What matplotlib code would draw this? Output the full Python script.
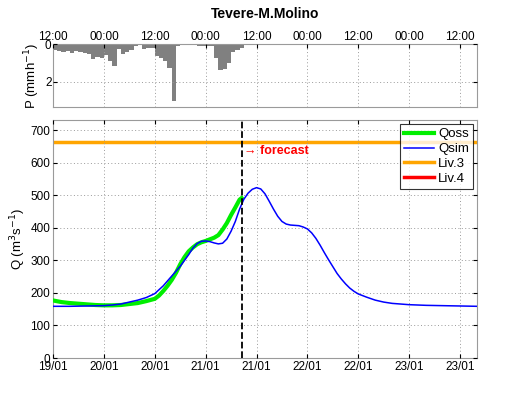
import matplotlib
matplotlib.use("Agg")
import matplotlib.pyplot as plt
import numpy as np

plt.rcParams['font.family'] = ['Liberation Sans', 'DejaVu Sans']
plt.rcParams['font.size'] = 8.5

# pioggia oraria (mm/h), ore dalle 12:00 del 19/01
rain = [0.30, 0.35, 0.40, 0.38, 0.45, 0.38, 0.40, 0.48, 0.55, 0.80,
        0.68, 0.72, 0.60, 0.90, 1.18, 0.25, 0.50, 0.42, 0.30, 0.10,
        0.05, 0.25, 0.22, 0.18, 0.65, 0.75, 0.90, 1.25, 3.05, 0.10,
        0.05, 0.05, 0.00, 0.05, 0.08, 0.08, 0.10, 0.10, 0.75, 1.40,
        1.30, 1.00, 0.40, 0.30, 0.20]
rain_h = np.arange(len(rain))

# portata osservata
qoss_h = [0, 2, 4, 6, 8, 10, 12, 14, 16, 18, 20, 22, 24, 25, 26, 27, 28, 29,
          30, 31, 32, 33, 34, 35, 36, 37, 38, 39, 40, 41, 42, 43, 44, 44.5]
qoss = [177, 172, 169, 167, 165, 163, 162, 162, 163, 166, 169, 175, 182, 192,
        206, 222, 240, 262, 288, 310, 328, 340, 350, 356, 360, 365, 370, 378,
        395, 415, 440, 463, 487, 492]

# portata simulata
qsim_h = [0, 4, 8, 12, 14, 16, 18, 20, 22, 24, 26, 28, 30, 32, 33, 34, 35, 36,
          37, 38, 39, 40, 41, 42, 43, 44, 45, 46, 47, 48, 49, 50, 51, 52, 53,
          54, 55, 56, 57, 58, 59, 60, 61, 62, 63, 64, 65, 66, 67, 68, 69, 70,
          71, 72, 74, 76, 78, 80, 84, 88, 92, 96, 100]
qsim = [159, 159, 160, 161, 163, 166, 172, 178, 186, 198, 222, 252, 282, 318,
        338, 352, 359, 360, 358, 354, 351, 353, 366, 390, 420, 458, 488, 507,
        519, 524, 520, 505, 482, 458, 436, 420, 412, 409, 408, 407, 403, 397,
        385, 368, 347, 324, 302, 281, 260, 243, 228, 215, 205, 197, 187, 178,
        172, 168, 164, 162, 161, 160, 159]

liv3 = 665
liv4 = 800
t_forecast = 44.5
t_end = 100

tick_h = [0, 12, 24, 36, 48, 60, 72, 84, 96]
date_labels = ['19/01', '20/01', '20/01', '21/01', '21/01', '22/01', '22/01', '23/01', '23/01']
time_labels = ['12:00', '00:00', '12:00', '00:00', '12:00', '00:00', '12:00', '00:00', '12:00']

fig = plt.figure(figsize=(5.3, 3.98), dpi=100)
ax1 = fig.add_axes([0.1, 0.731, 0.8, 0.158])
ax2 = fig.add_axes([0.1, 0.1005, 0.8, 0.5975])


def style(ax):
    for s in ax.spines.values():
        s.set_color('#9a9a9a')
        s.set_linewidth(0.8)
    ax.tick_params(direction='in', length=3, color='black', top=True, right=True)
    ax.grid(True, linestyle=(0, (1, 2.5)), color='#9a9a9a', linewidth=0.7)
    ax.set_axisbelow(False)


# pannello pioggia
ax1.bar(rain_h + 0.5, rain, width=1.0, color='#808080', edgecolor='none')
ax1.set_xlim(0, t_end)
ax1.set_ylim(max(rain) * 1.1, 0)
ax1.set_yticks([0, 2])
ax1.set_xticks(tick_h)
ax1.xaxis.tick_top()
ax1.set_xticklabels(time_labels)
ax1.set_ylabel('P (mmh$^{-1}$)', labelpad=2, fontsize=9.5)
style(ax1)
ax1.tick_params(labeltop=True, labelbottom=False, pad=1)
ax1.set_title('Tevere-M.Molino', fontweight='bold', fontsize=10, pad=19)

# pannello portate
ax2.plot(qoss_h, qoss, color='#00ee00', lw=3, label='Qoss', zorder=3)
ax2.plot(qsim_h, qsim, color='#0000ff', lw=1.1, label='Qsim', zorder=4)
ax2.axhline(liv3, color='#ffa500', lw=2.5, label='Liv.3', zorder=2)
ax2.axhline(liv4, color='#ff0000', lw=2.5, label='Liv.4', zorder=2)
ax2.axvline(t_forecast, color='black', lw=1.3, ls='--', zorder=5)
ax2.text(t_forecast + 0.6, 636, '\u2192 forecast', color='red', fontweight='bold',
         fontsize=9, va='center', ha='left')
ax2.set_xlim(0, t_end)
ax2.set_ylim(0, liv3 * 1.1)
ax2.set_yticks(range(0, 701, 100))
ax2.set_xticks(tick_h)
ax2.set_xticklabels(date_labels)
ax2.set_ylabel('Q (m$^3$s$^{-1}$)', labelpad=2, fontsize=9.5)
style(ax2)
ax2.tick_params(pad=2)
leg = ax2.legend(loc='upper right', fontsize=9.5, frameon=True, fancybox=False,
                 handlelength=2.3, borderaxespad=0.3, labelspacing=0.2,
                 handletextpad=0.3, borderpad=0.3)
leg.get_frame().set_edgecolor('black')
leg.get_frame().set_linewidth(0.8)

fig.savefig('out.png', dpi=100)
